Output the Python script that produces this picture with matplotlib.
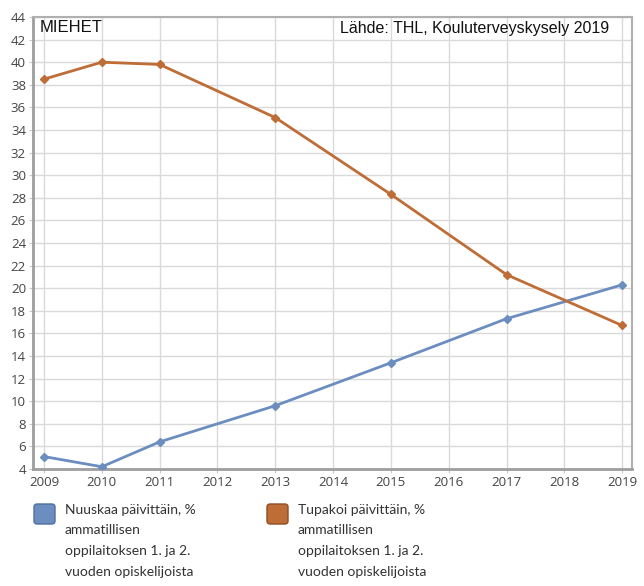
#!/usr/bin/env python3
# -*- coding: utf-8 -*-
"""
    Nuuskaaminen ja tupakointi, miehet (Kouluterveyskysely 2019)
"""

import matplotlib
matplotlib.use("Agg")
import matplotlib.pyplot as plt
from matplotlib.patches import FancyBboxPatch

# Datos
vuodet = [2009, 2010, 2011, 2013, 2015, 2017, 2019]
nuuskaa = [5.1, 4.2, 6.4, 9.6, 13.4, 17.3, 20.3]
tupakoi = [38.5, 40.0, 39.8, 35.1, 28.3, 21.2, 16.7]

x_ticks = list(range(2009, 2020))
y_ticks = list(range(4, 45, 2))

sarjat = [
    "Nuuskaa päivittäin, %\nammatillisen\noppilaitoksen 1. ja 2.\nvuoden opiskelijoista",
    "Tupakoi päivittäin, %\nammatillisen\noppilaitoksen 1. ja 2.\nvuoden opiskelijoista",
]
otsikko = "MIEHET"
lahde = "Lähde: THL, Kouluterveyskysely 2019"

sininen = "#6b8dc0"
oranssi = "#be6d36"
reunat = ["#4f6f9f", "#8c4e22"]

W, H = 644, 586
fig = plt.figure(figsize=(W / 100, H / 100), dpi=100)
ax = fig.add_axes([33 / W, 1 - 469 / H, (632 - 33) / W, (469 - 17) / H])

ax.plot(vuodet, nuuskaa, color=sininen, lw=2.0, marker="D", ms=4.5, zorder=3)
ax.plot(vuodet, tupakoi, color=oranssi, lw=2.0, marker="D", ms=4.5, zorder=3)

ax.set_xlim(2008.81, 2019.17)
ax.set_ylim(4, 44)
ax.set_xticks(x_ticks)
ax.set_yticks(y_ticks)

ax.grid(True, color="#dadada", lw=1.0)
ax.set_axisbelow(True)

for lado in ["left", "bottom"]:
    ax.spines[lado].set_color("#9e9e9e")
    ax.spines[lado].set_linewidth(2.0)
for lado in ["top", "right"]:
    ax.spines[lado].set_color("#b0b0b0")
    ax.spines[lado].set_linewidth(1.5)

ax.tick_params(axis="both", length=3, color="#c8c8c8", labelcolor="#444444",
               labelsize=9.5, pad=2)
for lab in ax.get_xticklabels() + ax.get_yticklabels():
    lab.set_fontfamily("Open Sans")

# otsikot (pikselit, origo vasen alakulma)
ax.text(40, H - 28, otsikko, transform=None, fontsize=12,
        family="Liberation Sans", color="#111111", va="center", ha="left")
ax.text(609, H - 28, lahde, transform=None, fontsize=11.5,
        family="Liberation Sans", color="#111111", va="center", ha="right")

# leyenda hecha a mano
for i, (nimi, vari) in enumerate(zip(sarjat, [sininen, oranssi])):
    x0 = 33 + i * 233
    laatikko = FancyBboxPatch(((x0 + 1) / W, 1 - 524 / H), 21 / W, 20 / H,
                              boxstyle="round,pad=0,rounding_size=0.005",
                              transform=fig.transFigure, facecolor=vari,
                              edgecolor=reunat[i], lw=1.0)
    fig.patches.append(laatikko)
    fig.text((x0 + 32) / W, 1 - 504 / H, nimi, fontsize=10,
             family="Lato", color="#333333", va="top", ha="left",
             linespacing=1.85)

fig.savefig("out.png", dpi=100)
